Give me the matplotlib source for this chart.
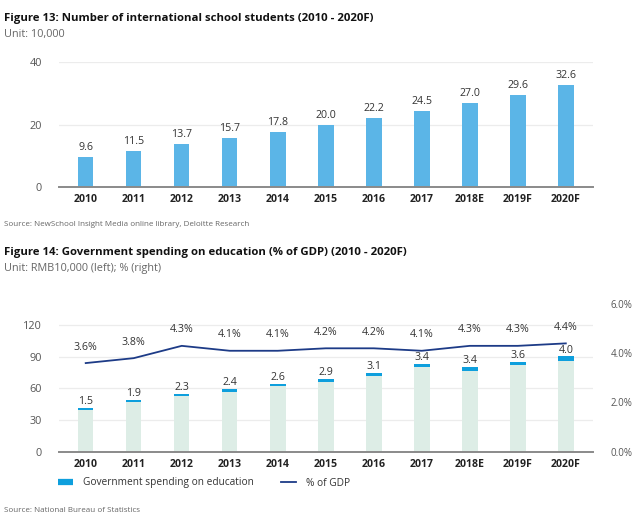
import matplotlib
matplotlib.use("Agg")
import matplotlib.pyplot as plt
from matplotlib.lines import Line2D
import numpy as np

plt.rcParams['font.family'] = ['Open Sans', 'DejaVu Sans']

# ---------------- data ----------------
years = ["2010", "2011", "2012", "2013", "2014", "2015", "2016", "2017", "2018E", "2019F", "2020F"]
students = [9.6, 11.5, 13.7, 15.7, 17.8, 20.0, 22.2, 24.5, 27.0, 29.6, 32.6]

spending = [1.5, 1.9, 2.3, 2.4, 2.6, 2.9, 3.1, 3.4, 3.4, 3.6, 4.0]
spending_base = [39.8, 47.0, 52.3, 56.9, 61.7, 65.9, 71.4, 79.9, 76.7, 81.6, 86.2]
gdp_pct = [3.6, 3.8, 4.3, 4.1, 4.1, 4.2, 4.2, 4.1, 4.3, 4.3, 4.4]

fig13_ticks = [0, 20, 40]
fig14_left_ticks = [0, 30, 60, 90, 120]
fig14_right_ticks = [0, 2, 4, 6]

# ---------------- style ----------------
BAR13 = "#5bb5e7"
BASE14 = "#ddede6"
CAP14 = "#0e9fdd"
LINE14 = "#1d3b87"
AXIS = "#8a8a8a"
GRID = "#ececec"
TICK = "#555555"
TXT = "#333333"
W = 6.4
H = 5.23
fig = plt.figure(figsize=(W, H), dpi=100)

def fx(px):
    return px / 640.0

def fy(py):
    return 1 - py / 523.0

x = np.arange(len(years))
bw = 0.323

def style_axes(ax):
    for s in ["top", "right", "left"]:
        ax.spines[s].set_visible(False)
    ax.spines["bottom"].set_color(AXIS)
    ax.spines["bottom"].set_linewidth(1.4)
    ax.tick_params(axis="both", length=0)
    ax.tick_params(axis="y", labelsize=7.8, labelcolor=TICK, pad=12.5)
    ax.tick_params(axis="x", labelsize=7.6, pad=5)
    ax.set_xticks(x)
    ax.set_xticklabels(years, fontweight="bold", color="#222222")
    ax.grid(axis="y", color=GRID, linewidth=0.9)
    ax.set_axisbelow(True)
    ax.set_xlim(-0.55, len(years) - 1 + 0.56)

# ---------------- Figure 13 ----------------
fig.text(fx(4), fy(19), "Figure 13: Number of international school students (2010 - 2020F)",
         fontsize=8.2, fontweight="bold", color="#111111", va="center")
fig.text(fx(4), fy(34), "Unit: 10,000", fontsize=7.8, color="#666666", va="center")

ax1 = fig.add_axes([fx(59.3), fy(187.3), fx(592.7) - fx(59.3), (187.3 - 62.3) / 523.0])
style_axes(ax1)
ax1.bar(x, students, width=bw, color=BAR13, zorder=2)
ax1.set_ylim(0, 40)
ax1.set_yticks(fig13_ticks)
for xi, v in zip(x, students):
    ax1.annotate(f"{v:.1f}", (xi, v), xytext=(0, 3), textcoords="offset points",
                 ha="center", va="bottom", fontsize=7.7, color=TXT)

fig.text(fx(4), fy(225), "Source: NewSchool Insight Media online library, Deloitte Research",
         fontsize=5.8, color="#666666", va="center")

# ---------------- Figure 14 ----------------
fig.text(fx(4), fy(253), "Figure 14: Government spending on education (% of GDP) (2010 - 2020F)",
         fontsize=8.2, fontweight="bold", color="#111111", va="center")
fig.text(fx(4), fy(269), "Unit: RMB10,000 (left); % (right)", fontsize=7.8, color="#666666", va="center")

ax2 = fig.add_axes([fx(59.3), fy(451.7), fx(592.7) - fx(59.3), (451.7 - 304.0) / 523.0])
style_axes(ax2)
ax2.set_ylim(0, (451.7 - 304.0) / 1.057)
ax2.set_yticks(fig14_left_ticks)
ax2.bar(x, spending_base, width=bw, color=BASE14, zorder=2)
ax2.bar(x, spending, width=bw, bottom=spending_base, color=CAP14, zorder=2)
for xi, b, v in zip(x, spending_base, spending):
    ax2.annotate(f"{v:.1f}", (xi, b + v), xytext=(0, 0.5), textcoords="offset points",
                 ha="center", va="bottom", fontsize=7.7, color=TXT)

ax3 = ax2.twinx()
for s in ["top", "right", "left", "bottom"]:
    ax3.spines[s].set_visible(False)
ax3.set_ylim(0, 6)
ax3.set_yticks(fig14_right_ticks)
ax3.set_yticklabels([f"{t:.1f}%" for t in fig14_right_ticks])
ax3.tick_params(axis="y", length=0, labelsize=7.0, labelcolor=TICK, pad=13)
ax3.plot(x, gdp_pct, color=LINE14, linewidth=1.3, zorder=3)
for xi, v in zip(x, gdp_pct):
    ax3.annotate(f"{v:.1f}%", (xi, v), xytext=(0, 11.5), textcoords="offset points",
                 ha="center", va="center", fontsize=7.7, color=TXT)
ax3.set_xlim(ax2.get_xlim())

handles = [Line2D([0], [0], color=CAP14, lw=4.5, solid_capstyle="butt"),
           Line2D([0], [0], color=LINE14, lw=1.3)]
fig.legend(handles, ["Government spending on education", "% of GDP"],
           loc="center left", bbox_to_anchor=(fx(49), fy(483)), ncol=2, frameon=False,
           fontsize=7.3, handlelength=1.5, handletextpad=1.0, columnspacing=2.6,
           labelcolor="#333333")

fig.text(fx(4), fy(510), "Source: National Bureau of Statistics", fontsize=5.8, color="#666666", va="center")

fig.savefig("out.png", dpi=100)
